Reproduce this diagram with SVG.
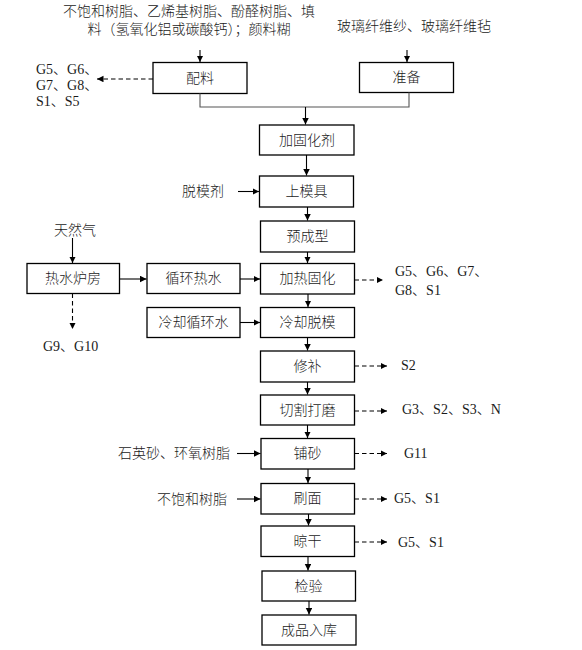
<svg xmlns="http://www.w3.org/2000/svg" width="582" height="650" viewBox="0 0 582 650">
<style>
.box{fill:#fff;stroke:#000;stroke-width:1.3}
.t{font-family:"Liberation Serif","Noto Sans CJK SC",serif;font-size:14px;font-weight:300;fill:#1a1a1a}
.c{text-anchor:middle;dominant-baseline:central}
.l{dominant-baseline:central}
.ln{fill:none;stroke:#000;stroke-width:1.1}
.gr{fill:none;stroke:#555;stroke-width:1.1}
.ds{fill:none;stroke:#000;stroke-width:1.1;stroke-dasharray:4.5 3}
</style>
<defs>
<marker id="ah" markerUnits="userSpaceOnUse" markerWidth="8" markerHeight="8" refX="6.5" refY="3.25" orient="auto">
<path d="M0,0 L6.5,3.25 L0,6.5 Z" fill="#000"/>
</marker>
</defs>
<rect width="582" height="650" fill="#fff"/>

<g id="inputs">
<text class="t c" x="189" y="11">不饱和树脂、乙烯基树脂、酚醛树脂、填</text>
<text class="t c" x="189" y="29">料（氢氧化铝或碳酸钙）；颜料糊</text>
<text class="t c" x="414" y="26">玻璃纤维纱、玻璃纤维毡</text>
<text class="t l" x="182" y="191">脱模剂</text>
<text class="t l" x="54" y="230">天然气</text>
<text class="t l" x="118" y="453">石英砂、环氧树脂</text>
<text class="t l" x="157" y="499">不饱和树脂</text>
</g>

<g id="emissions">
<text class="t l" x="36" y="69">G5、G6、</text>
<text class="t l" x="36" y="85">G7、G8、</text>
<text class="t l" x="36" y="101">S1、S5</text>
<text class="t l" x="395" y="271">G5、G6、G7、</text>
<text class="t l" x="395" y="290">G8、S1</text>
<text class="t l" x="43" y="346">G9、G10</text>
<text class="t l" x="401" y="365">S2</text>
<text class="t l" x="402" y="409">G3、S2、S3、N</text>
<text class="t l" x="404" y="453">G11</text>
<text class="t l" x="394" y="498">G5、S1</text>
<text class="t l" x="398" y="542">G5、S1</text>
</g>

<g id="n-peiliao"><rect class="box" x="153" y="62.5" width="94" height="31"/><text class="t c" x="200" y="78">配料</text></g>
<g id="n-zhunbei"><rect class="box" x="359.5" y="62.5" width="94" height="30"/><text class="t c" x="406.5" y="77.5">准备</text></g>
<g id="n-jiaguhuaji"><rect class="box" x="259.5" y="125" width="94.5" height="30"/><text class="t c" x="307" y="140">加固化剂</text></g>
<g id="n-shangmoju"><rect class="box" x="259.5" y="176" width="94" height="31"/><text class="t c" x="306.5" y="191.5">上模具</text></g>
<g id="n-yuchengxing"><rect class="box" x="260.5" y="221" width="94" height="31"/><text class="t c" x="307.5" y="236.5">预成型</text></g>
<g id="n-jiaregu"><rect class="box" x="260.5" y="263.5" width="94" height="30.5"/><text class="t c" x="307.5" y="278.5">加热固化</text></g>
<g id="n-reshuilu"><rect class="box" x="27" y="263.5" width="92.5" height="30"/><text class="t c" x="73" y="278.5">热水炉房</text></g>
<g id="n-xunhuanre"><rect class="box" x="147" y="263.5" width="93" height="30"/><text class="t c" x="193.5" y="278.5">循环热水</text></g>
<g id="n-lengquexh"><rect class="box" x="147" y="307.5" width="93" height="30"/><text class="t c" x="193.5" y="322.5">冷却循环水</text></g>
<g id="n-lengquetm"><rect class="box" x="260.5" y="307.5" width="94" height="30"/><text class="t c" x="307.5" y="322.5">冷却脱模</text></g>
<g id="n-xiubu"><rect class="box" x="260.5" y="351" width="94" height="31"/><text class="t c" x="307.5" y="366.5">修补</text></g>
<g id="n-qiege"><rect class="box" x="260.5" y="395" width="94" height="30"/><text class="t c" x="307.5" y="410">切割打磨</text></g>
<g id="n-pusha"><rect class="box" x="261" y="438.5" width="93.5" height="30.5"/><text class="t c" x="307.5" y="453.5">铺砂</text></g>
<g id="n-shuamian"><rect class="box" x="261" y="483.5" width="93.5" height="30.5"/><text class="t c" x="307.5" y="498.5">刷面</text></g>
<g id="n-liangan"><rect class="box" x="261" y="526" width="93.5" height="30.5"/><text class="t c" x="307.5" y="541">晾干</text></g>
<g id="n-jianyan"><rect class="box" x="262" y="571" width="93.5" height="30"/><text class="t c" x="308.5" y="586">检验</text></g>
<g id="n-chengpin"><rect class="box" x="262" y="615" width="94" height="30"/><text class="t c" x="309" y="630">成品入库</text></g>

<g id="connectors">
<line class="ln" x1="200" y1="50" x2="200" y2="62" marker-end="url(#ah)"/>
<line class="ln" x1="407" y1="50" x2="407" y2="62" marker-end="url(#ah)"/>
<line class="ds" x1="153" y1="79" x2="97" y2="79" marker-end="url(#ah)"/>
<polyline class="gr" points="200,93.5 200,107 409,107 409,92.5"/>
<line class="ln" x1="305.5" y1="107" x2="305.5" y2="124.5" marker-end="url(#ah)"/>
<line class="ln" x1="306.5" y1="155" x2="306.5" y2="175.5" marker-end="url(#ah)"/>
<line class="ln" x1="238" y1="191.5" x2="259" y2="191.5" marker-end="url(#ah)"/>
<line class="ln" x1="307.5" y1="207" x2="307.5" y2="220.5" marker-end="url(#ah)"/>
<line class="ln" x1="307.5" y1="252" x2="307.5" y2="263" marker-end="url(#ah)"/>
<line class="ln" x1="72.5" y1="238" x2="72.5" y2="263" marker-end="url(#ah)"/>
<line class="ln" x1="119.5" y1="279" x2="146.5" y2="279" marker-end="url(#ah)"/>
<line class="ln" x1="240" y1="279" x2="260" y2="279" marker-end="url(#ah)"/>
<line class="ds" x1="72.5" y1="293.5" x2="72.5" y2="329" marker-end="url(#ah)"/>
<line class="ds" x1="354.5" y1="280" x2="383" y2="280" marker-end="url(#ah)"/>
<line class="ln" x1="308" y1="294" x2="308" y2="307" marker-end="url(#ah)"/>
<line class="ln" x1="240" y1="322.5" x2="260" y2="322.5" marker-end="url(#ah)"/>
<line class="ln" x1="307.5" y1="337.5" x2="307.5" y2="350.5" marker-end="url(#ah)"/>
<line class="ds" x1="354.5" y1="366" x2="387" y2="366" marker-end="url(#ah)"/>
<line class="ln" x1="307.5" y1="382" x2="307.5" y2="394.5" marker-end="url(#ah)"/>
<line class="ds" x1="354.5" y1="411" x2="387" y2="411" marker-end="url(#ah)"/>
<line class="ln" x1="307.5" y1="425" x2="307.5" y2="438" marker-end="url(#ah)"/>
<line class="ln" x1="237" y1="453.5" x2="260.5" y2="453.5" marker-end="url(#ah)"/>
<line class="ds" x1="354.5" y1="453.5" x2="387" y2="453.5" marker-end="url(#ah)"/>
<line class="ln" x1="308" y1="469" x2="308" y2="483" marker-end="url(#ah)"/>
<line class="ln" x1="237" y1="499" x2="260.5" y2="499" marker-end="url(#ah)"/>
<line class="ds" x1="354.5" y1="499" x2="387" y2="499" marker-end="url(#ah)"/>
<line class="ln" x1="308.5" y1="514" x2="308.5" y2="525.5" marker-end="url(#ah)"/>
<line class="ds" x1="354.5" y1="542" x2="387" y2="542" marker-end="url(#ah)"/>
<line class="ln" x1="308" y1="556.5" x2="308" y2="570.5" marker-end="url(#ah)"/>
<line class="ln" x1="309" y1="601" x2="309" y2="614.5" marker-end="url(#ah)"/>
</g>
</svg>
